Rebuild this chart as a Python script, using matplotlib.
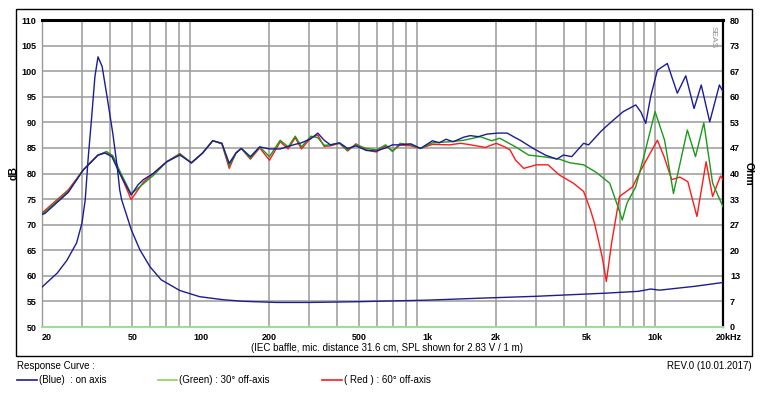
import matplotlib
matplotlib.use("Agg")
import matplotlib.pyplot as plt
from matplotlib.lines import Line2D
from matplotlib.patches import Rectangle
from matplotlib.ticker import NullLocator
import numpy as np

plt.rcParams['font.family'] = ['Liberation Sans', 'DejaVu Sans']

# ---------------- data ----------------
blue_f = [20, 20.6, 26.1, 30.4, 35.3, 37.9, 40.6, 44.0, 49.4, 53, 55.9, 61.8, 70.9, 81, 91, 102, 113, 124,
          133.6, 143, 151, 165.6, 182, 201, 224, 243, 261, 278, 306, 328, 350, 373, 409, 444, 483, 537, 594,
          653, 700, 756, 843, 930, 1050, 1125, 1205, 1294, 1442, 1540, 1674, 1826, 2040, 2240, 2388, 2555,
          2917, 3300, 3705, 3960, 4313, 4863, 5116, 5789, 6082, 6600, 7274, 8255, 8700, 9135, 9600, 10280,
          11370, 12580, 13710, 14910, 16040, 17480, 19280, 20000]
blue_db = [72.0, 72.2, 76.3, 80.7, 83.6, 84.0, 83.3, 80.0, 75.8, 77.8, 78.8, 80.0, 82.3, 83.6, 82.1, 84.0, 86.4,
           85.9, 82.0, 84.0, 84.9, 83.3, 85.2, 84.8, 84.8, 85.3, 85.7, 86.0, 86.8, 87.9, 86.5, 85.6, 86.0, 84.9,
           85.4, 84.5, 84.4, 85.0, 85.6, 85.6, 85.8, 84.9, 86.4, 86.0, 86.7, 86.2, 87.1, 87.4, 87.2, 87.7, 87.9,
           87.9, 87.2, 86.5, 84.9, 83.6, 82.8, 83.6, 83.3, 85.9, 85.6, 88.2, 89.1, 90.5, 92.1, 93.4, 92.0, 89.8,
           95.0, 100.2, 101.5, 95.7, 99.1, 92.7, 97.3, 90.1, 97.3, 96.0]

green_f = [20, 26.1, 30.4, 35.3, 38.5, 41, 44, 49.4, 55.9, 61.8, 70.9, 81, 91, 102, 113, 124, 133.6, 143, 151,
           165.6, 182, 201, 224, 243, 261, 278, 306, 328, 350, 373, 409, 444, 483, 537, 594, 653, 700, 756, 843,
           930, 1050, 1250, 1442, 1704, 1914, 2077, 2439, 2784, 3334, 3807, 4222, 4863, 5538, 6339, 6890, 7200,
           7550, 8255, 8960, 10040, 11060, 12100, 13930, 15130, 16460, 18000, 20000]
green_db = [72.0, 76.5, 80.7, 83.6, 84.3, 83.5, 80.5, 76.0, 78.0, 79.6, 82.3, 83.8, 82.1, 84.0, 86.4, 85.9, 81.5,
            84.0, 84.9, 83.0, 85.2, 83.3, 86.5, 85.2, 87.3, 85.2, 87.3, 87.0, 85.5, 85.6, 85.9, 84.6, 85.6, 84.9,
            84.6, 85.6, 84.3, 85.9, 85.6, 84.9, 86.0, 86.2, 86.5, 87.2, 86.4, 86.9, 85.2, 83.6, 83.2, 82.8, 82.1,
            81.7, 80.2, 78.1, 73.5, 70.9, 74.2, 77.4, 83.3, 92.1, 86.5, 76.1, 88.5, 83.3, 89.9, 78.1, 73.5]

red_f = [20, 26.1, 30.4, 35.3, 38, 41, 44, 49.4, 55.9, 61.8, 70.9, 81, 91, 102, 113, 124, 133.6, 143, 151, 165.6,
         182, 201, 224, 243, 261, 278, 306, 328, 350, 373, 409, 444, 483, 537, 594, 653, 700, 756, 843, 930, 1050,
         1250, 1396, 1500, 1640, 1793, 2004, 2185, 2305, 2440, 2649, 3022, 3390, 3807, 4384, 4863, 5211, 5431,
         5866, 6126, 6460, 7000, 8000, 8700, 10280, 11000, 11880, 12900, 14000, 15350, 16850, 18000, 19500,
         20000]
red_db = [72.3, 76.8, 80.7, 83.6, 84.1, 83.3, 80.2, 74.9, 78.3, 80.0, 82.3, 83.9, 82.0, 84.0, 86.4, 85.8, 81.0,
          84.0, 84.9, 82.8, 85.0, 82.6, 86.2, 84.8, 87.0, 84.8, 87.0, 87.5, 85.3, 85.4, 85.9, 84.4, 85.8, 84.6,
          84.2, 85.4, 84.4, 85.6, 85.4, 84.9, 85.7, 85.6, 85.9, 85.7, 85.4, 85.1, 85.9, 85.2, 84.6, 82.6, 81.0,
          81.7, 81.7, 79.7, 78.1, 76.5, 72.9, 70.3, 63.8, 58.9, 66.4, 75.5, 77.4, 80.7, 86.5, 83.3, 78.8, 79.3,
          78.4, 71.6, 82.3, 75.5, 79.5, 78.8]

imp_f = [20, 23.3, 25.7, 28.4, 30.0, 31.0, 31.9, 33.1, 34.2, 35.3, 36.8, 38.7, 41.0, 42.9, 44.0, 44.9, 49.5, 54,
         59.8, 67, 81, 99, 126, 154, 216, 300, 500, 1000, 1690, 3000, 6000, 8500, 9600, 10500, 15000, 20000]
imp_ohm = [10.4, 14.0, 17.3, 21.9, 27.1, 33.1, 43.5, 54.7, 65.2, 70.4, 67.9, 60.0, 50.5, 41.7, 35.7, 33.1, 25.3,
           20.1, 15.7, 12.3, 9.5, 7.9, 7.1, 6.7, 6.4, 6.4, 6.6, 7.0, 7.5, 8.0, 8.8, 9.3, 9.9, 9.6, 10.6, 11.6]

x_ticks = [20, 50, 100, 200, 500, 1000, 2000, 5000, 10000, 20000]
x_labels = ['20', '50', '100', '200', '500', '1k', '2k', '5k', '10k', '20kHz']
db_ticks = [50, 55, 60, 65, 70, 75, 80, 85, 90, 95, 100, 105, 110]
ohm_labels = ['0', '7', '13', '20', '27', '33', '40', '47', '53', '60', '67', '73', '80']

BLUE = '#1c1c96'
GREEN = '#1a9a1a'
RED = '#ff1a1a'
GRID = '#9a9a9a'

# ---------------- figure ----------------
W, H = 767, 393
fig = plt.figure(figsize=(W / 100, H / 100), dpi=100)
fig.patch.set_facecolor('white')

def fx(px):
    return px / W

def fy(py):
    return 1 - py / H

ax = fig.add_axes([fx(42), fy(327), fx(723) - fx(42), fy(20) - fy(327)])
ax.set_xscale('log')
ax.set_xlim(20, 20000)
ax.set_ylim(50, 110)

ax2 = ax.twinx()
ax2.set_ylim(0, 80)

# grid
grid_x = [f * m for m in (10, 100, 1000) for f in range(2, 10)] + [10000 * f for f in (1, 2)]
for g in grid_x:
    if 20 < g < 20000:
        ax.axvline(g, color=GRID, lw=1.1, zorder=1)
for d in db_ticks[1:-1]:
    ax.axhline(d, color=GRID, lw=1.1, zorder=1)

ax.set_yticks(db_ticks)
ax.set_yticklabels([str(t) for t in db_ticks], fontsize=6.5, fontweight='bold')
ax.tick_params(axis='y', length=0, pad=4)

for x, lab in zip(x_ticks, x_labels):
    ha = 'center'
    xx = x
    if lab == '20':
        ha = 'left'
    if lab == '20kHz':
        ha = 'left'
        xx = x * 0.93
    ax.text(xx, -0.035, lab, transform=ax.get_xaxis_transform(), ha=ha, va='center',
            fontsize=6.5, fontweight='bold')

ax.spines['top'].set_color('black')
ax.spines['top'].set_linewidth(2.2)
ax.spines['right'].set_color('black')
ax.spines['right'].set_linewidth(1.6)
ax.spines['left'].set_color(GRID)
ax.spines['left'].set_linewidth(1.0)
ax.spines['bottom'].set_color('#8ee68e')
ax.spines['bottom'].set_linewidth(1.4)

ax.plot(red_f, red_db, color=RED, lw=1.0, zorder=3)
ax.plot(green_f, green_db, color=GREEN, lw=1.0, zorder=4)
ax.plot(blue_f, blue_db, color=BLUE, lw=1.0, zorder=5)

ax2.set_yticks(np.linspace(0, 80, 13))
ax2.set_yticklabels(ohm_labels, fontsize=6.5, fontweight='bold')
ax2.tick_params(axis='y', length=0, pad=5)
for s in ax2.spines.values():
    s.set_visible(False)
ax2.plot(imp_f, imp_ohm, color=BLUE, lw=1.0, zorder=5)

# no x tick marks / labels (labels are drawn as text above)
for a in (ax, ax2):
    a.xaxis.set_major_locator(NullLocator())
    a.xaxis.set_minor_locator(NullLocator())
ax.set_xlim(20, 20000)

ax.set_ylabel('dB', fontsize=7.5, fontweight='bold', labelpad=2)
ax2.set_ylabel('Ohm', fontsize=7.5, fontweight='bold', rotation=-90, labelpad=10)

ax.text(0.99, 0.98, 'SEAS', transform=ax.transAxes, rotation=-90, ha='right', va='top',
        fontsize=6, color='#909090')

# outer frame
fig.add_artist(Rectangle((fx(16), fy(356)), fx(752) - fx(16), fy(9) - fy(356), transform=fig.transFigure,
                         fill=False, edgecolor='black', lw=1.0))

fig.text(fx(387), fy(348), '(IEC baffle, mic. distance 31.6 cm, SPL shown for 2.83 V / 1 m)',
         ha='center', va='center', fontsize=7)
fig.text(fx(17), fy(366), 'Response Curve :', ha='left', va='center', fontsize=7)
fig.text(fx(752), fy(366), 'REV.0 (10.01.2017)', ha='right', va='center', fontsize=7)

leg = [(17, 37, BLUE, '(Blue)  : on axis'),
       (158, 177, '#8fd14f', '(Green) : 30° off-axis'),
       (322, 342, RED, '( Red ) : 60° off-axis')]
for x0, x1, c, t in leg:
    fig.add_artist(Line2D([fx(x0), fx(x1)], [fy(380), fy(380)], transform=fig.transFigure, color=c, lw=1.2))
    fig.text(fx(x1 + 2), fy(380), t, ha='left', va='center', fontsize=7)

fig.savefig('out.png', dpi=100)
